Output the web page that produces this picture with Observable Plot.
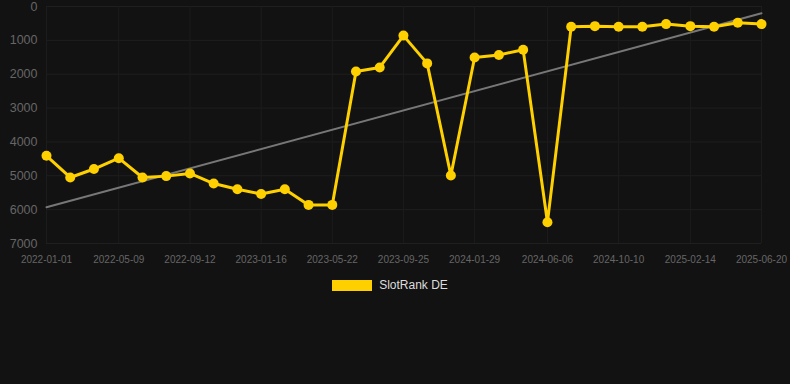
<!DOCTYPE html>
<html><head><meta charset="utf-8">
<script src="https://cdn.jsdelivr.net/npm/d3@7"></script>
<script src="https://cdn.jsdelivr.net/npm/@observablehq/plot@0.6"></script>
<style>
html,body{margin:0;padding:0;background:#121212;}
#chart{width:790px;height:384px;background:#121212;font-family:"Liberation Sans",Arial,sans-serif;}
.legend{display:flex;align-items:center;justify-content:center;margin-top:8px;padding-right:10px;color:#dddddd;font-size:12px;}
.legend .sw{width:40px;height:11px;background:#FFD000;margin-right:7px;}
</style></head>
<body><div id="chart"></div>
<script>
const dates = ["2022-01-01","2022-02-12","2022-03-26","2022-05-09","2022-06-20","2022-08-01","2022-09-12","2022-10-24","2022-12-05","2023-01-16","2023-02-27","2023-04-10","2023-05-22","2023-07-03","2023-08-14","2023-09-25","2023-11-06","2023-12-18","2024-01-29","2024-03-12","2024-04-24","2024-06-06","2024-07-18","2024-08-29","2024-10-10","2024-11-21","2025-01-02","2025-02-14","2025-03-28","2025-05-09","2025-06-20"];
const ranks = [4410,5050,4800,4480,5050,5010,4930,5230,5400,5540,5400,5860,5860,1920,1800,860,1680,4990,1505,1430,1280,6370,600,580,600,600,520,580,600,480,520];
const trendDates = ["2022-01-01","2025-06-20"];
const trendValues = [5930,200];
const tickDates = ["2022-01-01","2022-05-09","2022-09-12","2023-01-16","2023-05-22","2023-09-25","2024-01-29","2024-06-06","2024-10-10","2025-02-14","2025-06-20"];
const yTicks = [0,1000,2000,3000,4000,5000,6000,7000];
const seriesName = "SlotRank DE";

const data = dates.map((d,i)=>({date:new Date(d), rank:ranks[i]}));
const trend = trendDates.map((d,i)=>({date:new Date(d), rank:trendValues[i]}));
const color = "#FFD000";

const plot = Plot.plot({
  width:790, height:270,
  marginLeft:46, marginRight:29, marginTop:6, marginBottom:27,
  style:{background:"#121212", color:"#666666", fontFamily:"Liberation Sans, Arial, sans-serif", fontSize:"10px", overflow:"visible"},
  x:{type:"utc", domain:[new Date("2022-01-01"), new Date("2025-06-20")], label:null},
  y:{domain:[0,7000], reverse:true, label:null},
  marks:[
    Plot.gridY(yTicks,{stroke:"#1f1f1f", strokeOpacity:1}),
    Plot.gridX(tickDates.map(d=>new Date(d)),{stroke:"#1c1c1c", strokeOpacity:1}),
    Plot.axisY(yTicks,{tickSize:0, tickPadding:9, fontSize:12.5, fill:"#666666", tickFormat:d=>String(d)}),
    Plot.axisX(tickDates.map(d=>new Date(d)),{tickSize:0, tickPadding:12, fontSize:10, fill:"#666666", tickFormat:d3.utcFormat("%Y-%m-%d")}),
    Plot.line(trend,{x:"date", y:"rank", stroke:"#777777", strokeWidth:2}),
    Plot.line(data,{x:"date", y:"rank", stroke:color, strokeWidth:3, strokeLinejoin:"miter", strokeLinecap:"butt"}),
    Plot.dot(data,{x:"date", y:"rank", r:5, fill:color, stroke:"none"})
  ]
});
const root = document.getElementById("chart");
root.appendChild(plot);
const lg = document.createElement("div");
lg.className="legend";
lg.innerHTML = '<div class="sw"></div><span></span>';
lg.querySelector("span").textContent = seriesName;
root.appendChild(lg);
</script></body></html>
